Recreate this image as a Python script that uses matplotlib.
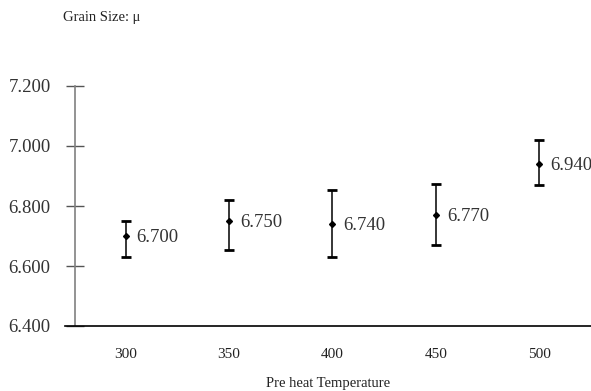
import matplotlib
matplotlib.use("Agg")
import matplotlib.pyplot as plt
import numpy as np

categories = ["300", "350", "400", "450", "500"]
means = [6.700, 6.750, 6.740, 6.770, 6.940]
upper = [6.750, 6.821, 6.852, 6.872, 7.021]
lower = [6.630, 6.652, 6.630, 6.670, 6.870]
yticks = [6.4, 6.6, 6.8, 7.0, 7.2]

plt.rcParams['font.family'] = ['Liberation Serif', 'DejaVu Serif']

fig = plt.figure(figsize=(5.91, 3.91), dpi=100)
ax = fig.add_axes([65/591, 65/391, 526/591, 240/391])

x = np.arange(len(categories))
m = np.array(means)
yerr = np.vstack([m - np.array(lower), np.array(upper) - m])
ax.errorbar(x, m, yerr=yerr, fmt='D', color='black', ms=3, elinewidth=1.1,
            capsize=3.5, capthick=2, ecolor='black')
for xi, mi in zip(x, means):
    ax.annotate(f"{mi:.3f}", (xi, mi), xytext=(8, -1), textcoords='offset points',
                va='center', ha='left', fontsize=13.5, color='#333333')

ax.set_xlim(-0.585, 4.5)
ax.set_ylim(6.4, 7.2)
ax.set_xticks(x)
ax.set_xticklabels(categories)
ax.set_yticks(yticks)
ax.set_yticklabels([f"{v:.3f}" for v in yticks])

for s in ['top', 'right']:
    ax.spines[s].set_visible(False)
ax.spines['left'].set_position(('data', -0.49))
ax.spines['left'].set_color('#808080')
ax.spines['left'].set_linewidth(1.2)
ax.spines['bottom'].set_color('black')
ax.spines['bottom'].set_linewidth(1.2)

ax.tick_params(axis='y', direction='inout', length=13, width=1, color='#555555',
               pad=11, labelsize=13.5, labelcolor='#333333')
ax.tick_params(axis='x', length=0, pad=16, labelsize=11, labelcolor='#222222')

ax.set_xlabel("Pre heat Temperature", fontsize=10.5, color='#222222', labelpad=11)
fig.text(63/591, 1 - 18/391, "Grain Size: μ", fontsize=10.5, color='#222222',
         ha='left', va='center')

fig.savefig("out.png", dpi=100)
